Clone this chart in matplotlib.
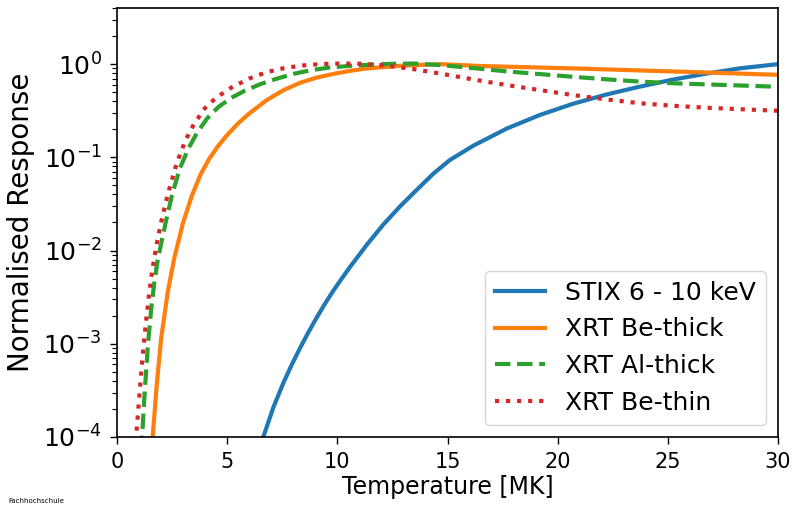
import numpy as np
import matplotlib
matplotlib.use('Agg')
from matplotlib import pyplot as plt

# values: temperature in MK and log10 of the normalised response
stix_T = [6.64, 7.10, 7.55, 7.93, 8.31, 8.68, 9.06, 9.44, 9.82, 10.2, 10.58, 11.33, 12.09,
          12.85, 13.6, 14.36, 15.1, 16.17, 17.7, 19.2, 20.7, 22.23, 23.7, 25.25, 26.8,
          28.28, 30.0]
stix_log = [-4.0, -3.68, -3.42, -3.225, -3.045, -2.88, -2.72, -2.57, -2.43, -2.30, -2.175,
            -1.94, -1.72, -1.525, -1.35, -1.175, -1.03, -0.875, -0.69, -0.545, -0.425,
            -0.325, -0.243, -0.165, -0.10, -0.045, 0.0]

bethick_T = [1.55, 1.62, 1.80, 2.0, 2.3, 2.6, 3.0, 3.4, 3.8, 4.2, 4.6, 5.0, 5.5, 6.0, 6.8,
             7.55, 8.31, 9.06, 9.82, 10.58, 11.33, 12.85, 14.66, 16.5, 20.7, 26.8, 30.0]
bethick_log = [-4.2, -4.0, -3.45, -2.95, -2.45, -2.08, -1.70, -1.41, -1.18, -1.01, -0.875,
               -0.76, -0.635, -0.53, -0.385, -0.28, -0.20, -0.145, -0.105, -0.072, -0.047,
               -0.018, 0.0, -0.02, -0.046, -0.09, -0.115]

althick_T = [1.10, 1.15, 1.25, 1.40, 1.55, 1.70, 1.85, 2.0, 2.2, 2.5, 2.85, 3.25, 3.65, 4.1,
             4.6, 5.2, 5.8, 6.5, 7.2, 8.0, 8.8, 9.6, 10.5, 11.5, 12.5, 13.5, 14.66, 15.5,
             16.5, 17.7, 19.2, 20.7, 22.2, 23.7, 25.2, 26.8, 28.4, 30.0]
althick_log = [-4.15, -3.95, -3.55, -3.02, -2.63, -2.33, -2.10, -1.93, -1.71, -1.40, -1.12,
               -0.90, -0.73, -0.58, -0.46, -0.36, -0.285, -0.215, -0.16, -0.105, -0.065,
               -0.038, -0.02, -0.006, 0.003, 0.006, -0.01, -0.028, -0.05, -0.078, -0.107,
               -0.136, -0.163, -0.187, -0.205, -0.218, -0.23, -0.243]

bethin_T = [0.85, 0.95, 1.05, 1.15, 1.30, 1.45, 1.60, 1.80, 2.0, 2.3, 2.7, 3.1, 3.5, 4.0,
            4.5, 5.2, 6.0, 6.8, 7.6, 8.4, 9.2, 10.0, 11.0, 12.0, 12.7, 13.5, 14.2, 15.0,
            16.17, 17.7, 19.2, 20.7, 22.23, 23.74, 25.25, 26.77, 28.4, 30.0]
bethin_log = [-4.05, -3.75, -3.45, -3.17, -2.80, -2.48, -2.21, -1.93, -1.70, -1.40, -1.07,
              -0.82, -0.64, -0.47, -0.36, -0.25, -0.155, -0.085, -0.042, -0.015, 0.0,
              0.006, 0.004, -0.012, -0.03, -0.055, -0.083, -0.115, -0.165, -0.225, -0.279,
              -0.332, -0.379, -0.42, -0.447, -0.468, -0.485, -0.5]

plt.rcParams['font.size'] = 16

fig, ax = plt.subplots(figsize=(7.96, 5.07), dpi=100)
ax.plot(stix_T, 10 ** np.array(stix_log), color='tab:blue', lw=3, label='STIX 6 - 10 keV')
ax.plot(bethick_T, 10 ** np.array(bethick_log), color='tab:orange', lw=3, label='XRT Be-thick')
ax.plot(althick_T, 10 ** np.array(althick_log), color='tab:green', lw=3, ls='--',
        label='XRT Al-thick')
ax.plot(bethin_T, 10 ** np.array(bethin_log), color='tab:red', lw=3, ls=':',
        label='XRT Be-thin')

ax.set_yscale('log')
ax.set_xlim(0, 30)
ax.set_ylim(1e-4, 4)
ax.set_xlabel('Temperature [MK]', fontsize=17, labelpad=2)
ax.set_ylabel('Normalised Response', fontsize=20, labelpad=6)
ax.tick_params(axis='x', which='major', length=5, width=1, pad=6, labelsize=15)
ax.tick_params(axis='y', which='major', length=5, width=1, pad=6, labelsize=18)
ax.tick_params(axis='y', which='minor', length=3.5, width=0.8)
for s in ax.spines.values():
    s.set_linewidth(1.2)
ax.legend(loc='lower right', fontsize=18)

fig.subplots_adjust(left=117/796, right=778/796, top=1-8/507, bottom=1-437/507)
fig.text(8/796, 1-503/507, 'Fachhochschule', fontsize=5)
fig.savefig('out.png', dpi=100)
